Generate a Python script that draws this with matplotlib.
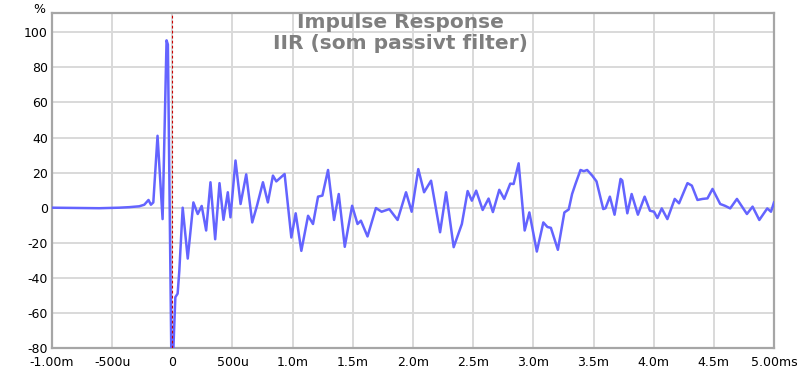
import matplotlib
matplotlib.use('Agg')
import matplotlib.pyplot as plt

# impulse response (time in ms, amplitude in %)
t_ms = [-1.0, -0.775, -0.608, -0.442, -0.358, -0.275, -0.233, -0.198, -0.178, -0.158,
        -0.123, -0.081, -0.048, -0.037, -0.005, 0.025, 0.044, 0.058, 0.086, 0.128,
        0.175, 0.211, 0.244, 0.281, 0.317, 0.356, 0.392, 0.425, 0.461, 0.483,
        0.525, 0.567, 0.614, 0.664, 0.703, 0.753, 0.794, 0.836, 0.864, 0.933,
        0.989, 1.025, 1.072, 1.128, 1.169, 1.211, 1.247, 1.294, 1.344, 1.383,
        1.433, 1.494, 1.539, 1.567, 1.622, 1.692, 1.739, 1.803, 1.872, 1.942,
        1.989, 2.044, 2.092, 2.150, 2.225, 2.275, 2.338, 2.406, 2.454, 2.489,
        2.525, 2.579, 2.628, 2.664, 2.717, 2.758, 2.808, 2.836, 2.878, 2.928,
        2.967, 3.029, 3.083, 3.117, 3.146, 3.204, 3.258, 3.294, 3.322, 3.350,
        3.392, 3.419, 3.447, 3.489, 3.525, 3.581, 3.600, 3.636, 3.675, 3.725,
        3.739, 3.781, 3.817, 3.869, 3.925, 3.969, 4.003, 4.031, 4.067, 4.114,
        4.175, 4.211, 4.281, 4.317, 4.364, 4.406, 4.447, 4.489, 4.553, 4.592,
        4.636, 4.692, 4.775, 4.822, 4.878, 4.944, 4.975, 5.0]
amp = [0, -0.2, -0.3, 0, 0.3, 0.8, 1.7, 4.4, 1.7, 3,
       41, -6.5, 95.4, 93, -105, -51, -49, -36, 0, -29,
       3, -3.6, 1, -13, 14.5, -18, 14, -6.9, 8.8, -5.5,
       26.9, 2.1, 19, -8.4, 1, 14.5, 3, 18.3, 15, 19.2,
       -17, -3.2, -24.6, -4.6, -9.3, 6.3, 6.9, 21.5, -7, 7.8,
       -22.3, 1.1, -9.3, -7.4, -16.4, -0.2, -2.3, -0.8, -7, 8.8,
       -2.3, 22, 8.8, 15.4, -14, 8.8, -22.5, -9.3, 9.5, 4,
       9.7, -1.3, 5.2, -2.5, 10.2, 5, 13.7, 13.5, 25.3, -13,
       -2.7, -25, -8.4, -11, -11.5, -24, -2.7, -1, 7.8, 13.5,
       21.5, 20.8, 21.5, 18.3, 15, -0.8, -0.3, 6.3, -4, 16.4,
       15.5, -3.2, 7.8, -4, 6.3, -1.7, -2.3, -5.9, -0.4, -6.5,
       5, 2.5, 14, 12.6, 4.4, 5, 5.3, 10.7, 2.1, 1.1,
       -0.4, 5, -3.6, 0.6, -7, -0.4, -2.3, 3]

x_ticks = [-1.0, -0.5, 0, 0.5, 1.0, 1.5, 2.0, 2.5, 3.0, 3.5, 4.0, 4.5, 5.0]
x_labels = ['-1.00m', '-500u', '0', '500u', '1.0m', '1.5m', '2.0m', '2.5m',
            '3.0m', '3.5m', '4.0m', '4.5m', '5.00ms']
y_ticks = [-80, -60, -40, -20, 0, 20, 40, 60, 80, 100]

fig = plt.figure(figsize=(8, 3.68), dpi=100)
ax = fig.add_axes([0.065, 0.0543, 0.9025, 0.9104])

ax.plot(t_ms, amp, color='#6464ff', lw=1.8, zorder=3)
ax.axvline(0, color='#cc0000', lw=0.8, ls=(0, (2.5, 2)), zorder=4)

ax.set_xlim(-1.0, 5.0)
ax.set_ylim(-80, 111)
ax.set_xticks(x_ticks)
ax.set_xticklabels(x_labels)
ax.set_yticks(y_ticks)
ax.set_yticklabels([str(v) for v in y_ticks])
ax.tick_params(length=0, labelsize=9)
ax.tick_params(axis='x', pad=5.5)
ax.tick_params(axis='y', pad=3)
ax.grid(True, color='#d9d9d9', lw=1.4)
ax.set_axisbelow(True)
for s in ax.spines.values():
    s.set_color('#a6a6a6')
    s.set_linewidth(1.6)

fig.text(0.042, 0.975, '%', fontsize=9, ha='left', va='center')
fig.text(0.5, 0.91, 'Impulse Response\nIIR (som passivt filter)', ha='center', va='center',
         fontsize=14.5, fontweight='bold', color='#7f7f7f', linespacing=1.1)

plt.savefig('out.png', dpi=100)
